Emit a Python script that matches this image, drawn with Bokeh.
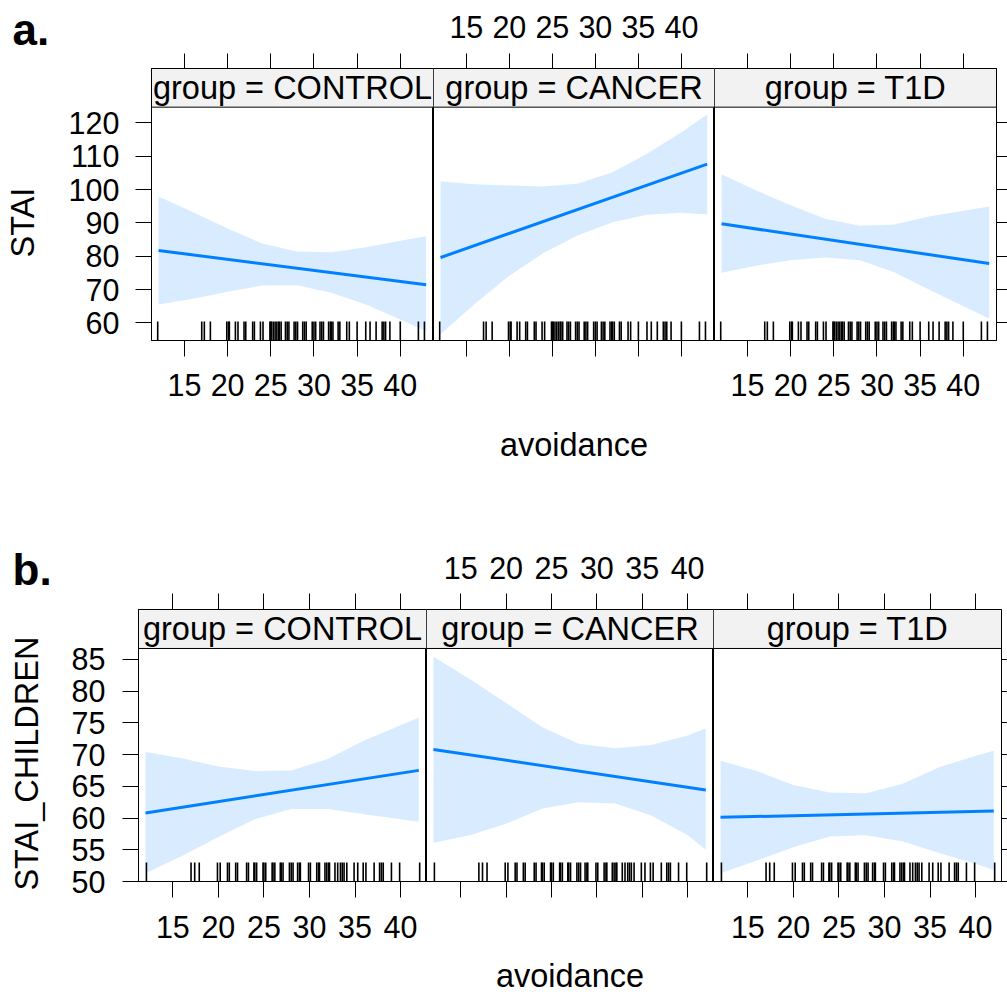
from bokeh.plotting import figure
from bokeh.models import Range1d, LinearAxis, FixedTicker, Span, Title, CustomLabelingPolicy
from bokeh.layouts import row, column
from bokeh.embed import file_html
from bokeh.resources import INLINE
from bokeh.core.properties import value

FONT = "Liberation Sans"
BLUE = "#0080ff"

# ---------------- data ----------------
groups = ["CONTROL", "CANCER", "T1D"]
x_ticks = [15, 20, 25, 30, 35, 40]
stai_ticks = [60, 70, 80, 90, 100, 110, 120]
child_ticks = [50, 55, 60, 65, 70, 75, 80, 85]

# panel a: STAI
grid_a = [12, 16, 20, 24, 28, 32, 36, 40, 43]
stai_fit_x = [12, 43]
stai_control_fit = [81.7, 71.4]
stai_cancer_fit = [79.6, 107.6]
stai_t1d_fit = [89.7, 77.8]
stai_control_lo = [65.5, 67.2, 69.3, 71.2, 71.3, 69.0, 65.5, 61.0, 57.5]
stai_control_hi = [97.9, 93.2, 88.3, 83.8, 81.4, 81.2, 82.7, 84.6, 86.0]
stai_cancer_lo = [56.6, 65.7, 74.1, 81.0, 86.3, 90.2, 92.4, 93.0, 92.5]
stai_cancer_hi = [102.4, 101.6, 101.2, 100.9, 101.8, 105.2, 110.7, 117.2, 122.5]
stai_t1d_lo = [75.0, 77.1, 78.8, 79.6, 78.8, 75.2, 70.0, 65.0, 61.2]
stai_t1d_hi = [104.6, 99.7, 95.3, 91.2, 89.1, 89.5, 91.9, 93.6, 94.9]
rug_a = [11.9, 17.0, 17.3, 18.0, 19.9, 20.1, 20.2, 20.9, 21.2, 21.9, 22.1, 22.9, 23.1,
         23.8, 24.1, 24.9, 25.0, 25.1, 25.3, 25.5, 25.7, 25.9, 26.0, 26.2, 26.7, 26.9,
         27.1, 27.7, 27.9, 28.1, 28.7, 28.9, 29.1, 29.8, 30.0, 30.2, 30.7, 30.9, 31.1,
         31.7, 31.9, 32.0, 32.2, 32.8, 33.0, 33.8, 34.1, 35.0, 36.0, 36.5, 37.2, 37.9,
         38.1, 38.3, 38.8, 40.0, 42.1, 42.8]

# panel b: STAI_CHILDREN
grid_b = [12, 16, 20, 24, 28, 32, 36, 40, 42]
child_fit_x = [12, 42]
child_control_fit = [60.8, 67.5]
child_cancer_fit = [70.8, 64.4]
child_t1d_fit = [60.1, 61.1]
child_control_lo = [51.3, 54.0, 57.0, 59.8, 61.4, 61.4, 60.6, 59.8, 59.4]
child_control_hi = [70.4, 69.4, 68.1, 67.4, 67.5, 69.3, 72.2, 74.6, 75.8]
child_cancer_lo = [56.1, 57.3, 59.1, 61.5, 62.5, 62.3, 60.4, 57.3, 55.0]
child_cancer_hi = [85.4, 81.9, 78.1, 74.3, 71.7, 71.0, 71.5, 73.0, 74.1]
child_t1d_lo = [51.3, 53.3, 55.4, 57.1, 57.3, 56.3, 54.5, 52.8, 51.8]
child_t1d_hi = [69.0, 67.4, 65.2, 64.0, 63.9, 65.4, 68.0, 69.8, 70.6]
rug_b = [12.1, 17.0, 17.4, 17.9, 19.9, 20.2, 21.0, 21.2, 21.9, 22.1, 23.1, 23.3, 23.9,
         24.0, 24.2, 24.9, 25.0, 25.2, 25.9, 26.0, 26.2, 26.8, 26.9, 27.1, 27.8, 28.0,
         28.2, 28.7, 28.9, 29.0, 29.9, 30.1, 30.8, 31.0, 31.1, 31.7, 31.9, 32.1, 32.2,
         32.8, 33.1, 33.4, 33.6, 33.8, 34.1, 34.9, 35.3, 35.9, 36.2, 37.1, 37.7, 37.9,
         38.1, 39.0, 39.9, 42.1]

# ---------------- layout ----------------
# the y label is centred on the panel body, not on panel + strip: a few
# non-breaking spaces after it move the visible word down by half their width
NBSP_PAD = "\u00a0" * 4

ROWS = [
    dict(tag="a.", ylab="STAI", yticks=stai_ticks,
         xr=(11.18, 43.85), yr=(54.7, 136.3), strip_lo=124.7,
         left=151, widths=[282, 281, 282], right=11, top=68, height=272, bottom=200,
         grid=grid_a, fit_x=stai_fit_x,
         fits=[stai_control_fit, stai_cancer_fit, stai_t1d_fit],
         los=[stai_control_lo, stai_cancer_lo, stai_t1d_lo],
         his=[stai_control_hi, stai_cancer_hi, stai_t1d_hi],
         rug=rug_a, rug_px=19, top_tick=15, tick=16,
         top_standoff=16, bottom_standoff=17, left_standoff=16,
         ylab_standoff=25, xlab_standoff=70),
    dict(tag="b.", ylab="STAI_CHILDREN", yticks=child_ticks,
         xr=(11.23, 42.85), yr=(50.0, 92.84), strip_lo=86.7,
         left=138, widths=[288, 287, 288], right=6, top=69, height=272, bottom=114,
         grid=grid_b, fit_x=child_fit_x,
         fits=[child_control_fit, child_cancer_fit, child_t1d_fit],
         los=[child_control_lo, child_cancer_lo, child_t1d_lo],
         his=[child_control_hi, child_cancer_hi, child_t1d_hi],
         rug=rug_b, rug_px=19, top_tick=16, tick=16,
         top_standoff=15, bottom_standoff=18, left_standoff=17,
         ylab_standoff=24, xlab_standoff=60),
]

HIDE_JS = "for (const i of Array.from(indices)) { indices.set(i, false) }\nreturn indices"


def style_axis(ax, ticks, show, tick_out, standoff):
    ax.ticker = FixedTicker(ticks=ticks)
    ax.major_tick_out = tick_out
    ax.major_tick_in = 0
    ax.minor_tick_line_color = None
    ax.axis_line_color = "black"
    ax.major_tick_line_color = "black"
    ax.major_label_text_font = FONT
    ax.major_label_text_color = "black"
    if show:
        ax.major_label_text_font_size = "30.5px"
        ax.major_label_standoff = standoff
    else:
        ax.major_label_text_font_size = "0px"
        ax.major_label_standoff = 0
        ax.major_label_policy = CustomLabelingPolicy(code=HIDE_JS)


def style_label(ax, text, standoff):
    ax.axis_label = text
    ax.axis_label_text_font = FONT
    ax.axis_label_text_font_size = "32.5px"
    ax.axis_label_text_font_style = "normal"
    ax.axis_label_text_color = "black"
    ax.axis_label_standoff = standoff


def build_row(s):
    figs = []
    x0, x1 = s["xr"]
    y0, y1 = s["yr"]
    sy = s["height"] / (y1 - y0)
    for i, g in enumerate(groups):
        p = figure(frame_width=s["widths"][i], frame_height=s["height"],
                   x_range=Range1d(x0, x1), y_range=Range1d(y0, y1),
                   min_border=0,
                   min_border_left=s["left"] if i == 0 else 0,
                   min_border_right=s["right"] if i == 2 else 0,
                   min_border_top=s["top"], min_border_bottom=s["bottom"],
                   x_axis_location=None, y_axis_location=None,
                   output_backend="svg", toolbar_location=None,
                   background_fill_color="white", border_fill_color="white")
        p.grid.grid_line_color = None
        p.outline_line_color = "black"
        p.outline_line_width = 1

        # strip
        p.quad(left=[x0], right=[x1], bottom=[s["strip_lo"]], top=[y1],
               fill_color="#f2f2f2", line_color=None)
        p.add_layout(Span(location=s["strip_lo"], dimension="width",
                          line_color="black", line_width=1))
        p.text(x=[(x0 + x1) / 2], y=[(s["strip_lo"] + y1) / 2], text=["group = " + g],
               text_font=value(FONT), text_font_size="32.5px", text_color="black",
               text_align="center", text_baseline="middle")

        # confidence band, rug, fitted line
        p.varea(x=s["grid"], y1=s["los"][i], y2=s["his"][i],
                fill_color=BLUE, fill_alpha=0.15)
        rlen = s["rug_px"] / sy
        p.segment(x0=s["rug"], x1=s["rug"], y0=[y0] * len(s["rug"]),
                  y1=[y0 + rlen] * len(s["rug"]), line_color="black", line_width=1.6)
        p.line(s["fit_x"], s["fits"][i], line_color=BLUE, line_width=3)

        # axes
        below = LinearAxis()
        style_axis(below, x_ticks, i != 1, s["tick"], s["bottom_standoff"])
        if i == 1:
            style_label(below, "avoidance", s["xlab_standoff"])
        p.add_layout(below, "below")
        above = LinearAxis()
        style_axis(above, x_ticks, i == 1, s["top_tick"], s["top_standoff"])
        p.add_layout(above, "above")
        if i == 0:
            left = LinearAxis()
            style_axis(left, s["yticks"], True, s["tick"], s["left_standoff"])
            style_label(left, s["ylab"] + NBSP_PAD, s["ylab_standoff"])
            p.add_layout(left, "left")
            p.add_layout(Title(text=s["tag"], text_font=FONT, text_font_size="44px",
                               text_font_style="bold", text_color="black",
                               align="left", offset=12 - s["left"], standoff=-2,
                               vertical_align="middle"), "above")
        if i == 2:
            right = LinearAxis()
            style_axis(right, s["yticks"], False, s["right"], 0)
            p.add_layout(right, "right")
        figs.append(p)
    return row(*figs, spacing=0)


layout = column(build_row(ROWS[0]), build_row(ROWS[1]), spacing=0)
open("out.html", "w").write(file_html(layout, INLINE))
